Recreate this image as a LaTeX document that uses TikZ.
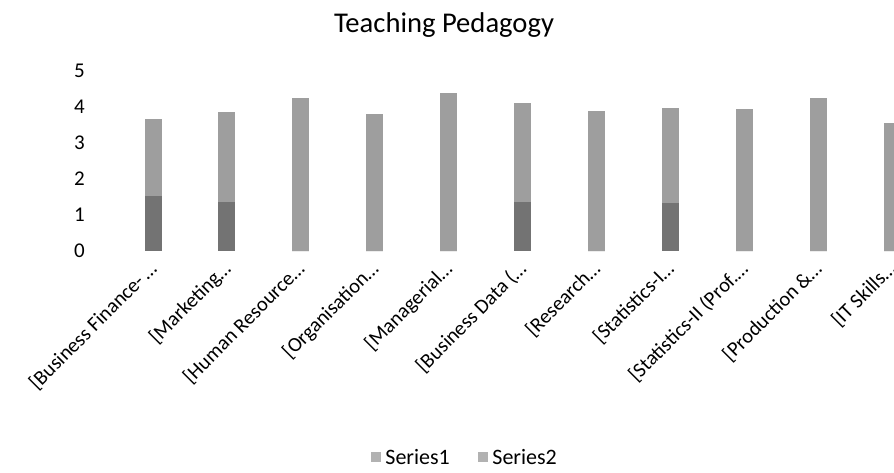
\documentclass[tikz,border=0pt]{standalone}
\usepackage{fontspec}
\setmainfont{Carlito}
\usepackage{xcolor}
\usetikzlibrary{positioning}

\begin{document}
\begin{tikzpicture}[x=1pt,y=1pt,
    barfill/.style={fill=black!38, draw=none},
    darkfill/.style={fill=black!55, draw=none},
    catlabel/.style={anchor=base east, rotate=45, inner sep=0pt, font=\fontsize{20.5}{24}\selectfont},
    legendbox/.style={fill=black!30, minimum size=10pt, inner sep=0pt}]
        \useasboundingbox (0,0) rectangle (894,473);
        \clip (0,0) rectangle (894,473);

        % Title
        \node[anchor=base] (title) at (444,440.5) {\fontsize{28.6}{32}\selectfont Teaching Pedagogy};

        % Value axis
        \foreach \v in {0,...,5} {
          \node[anchor=base east, inner sep=0pt] (tick\v) at (85,{215.4+36*\v}) {\fontsize{21}{24}\selectfont \v};
        }

        % Bars (Series1 full height, darker lower part)
        \foreach \i/\h/\d in {1/3.66/1.52, 2/3.87/1.37, 3/4.24/0, 4/3.81/0, 5/4.40/0, 6/4.10/1.37,
                              7/3.90/0, 8/3.96/1.33, 9/3.94/0, 10/4.26/0, 11/3.55/0} {
          \pgfmathsetmacro{\xc}{153+73.9*(\i-1)}
          \filldraw[barfill] ({\xc-8.5},222) rectangle ({\xc+8.5},{222+36*\h});
          \filldraw[darkfill] ({\xc-8.5},222) rectangle ({\xc+8.5},{222+36*\d});
        }

        % Category labels
        \foreach \i/\lab in {1/{[Business Finance-\,…}, 2/{[Marketing…}, 3/{[Human Resource…},
                             4/{[Organisation…}, 5/{[Managerial…}, 6/{[Business Data (…},
                             7/{[Research…}, 8/{[Statistics-I…}, 9/{[Statistics-II (Prof.…},
                             10/{[Production \&…}, 11/{[IT Skills…}} {
          \node[catlabel] (cat\i) at ({158+73.9*(\i-1)},203) {\lab};
        }

        % Legend
        \node[legendbox] (s1box) at (376,16) {};
        \node[right=2pt of s1box, inner sep=2pt, font=\fontsize{22}{24}\selectfont] (s1text) {Series1};
        \node[legendbox] (s2box) at (483,16) {};
        \node[right=2pt of s2box, inner sep=2pt, font=\fontsize{22}{24}\selectfont] (s2text) {Series2};
      \end{tikzpicture}
\end{document}
